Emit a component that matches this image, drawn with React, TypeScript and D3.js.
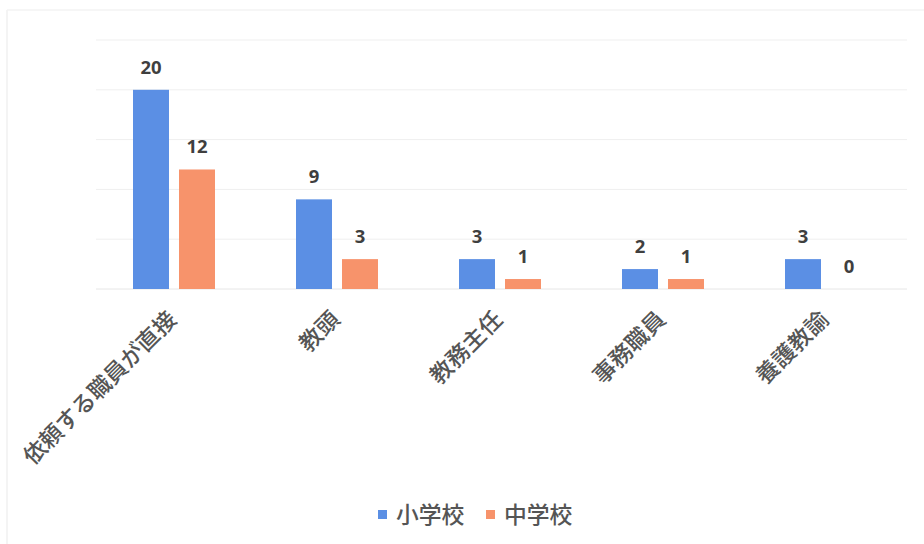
import React from "react";
import * as d3 from "d3";

const categories = ["依頼する職員が直接", "教頭", "教務主任", "事務職員", "養護教諭"];
const seriesNames = ["小学校", "中学校"];
const elementary = [20, 9, 3, 2, 3];
const juniorHigh = [12, 3, 1, 1, 0];
const yTicks = [0, 5, 10, 15, 20, 25];

const colors = ["#5B8FE4", "#F7936B"];
const W = 924;
const H = 544;

export default function App() {
  const x0 = d3.scaleBand<string>().domain(categories).range([92.5, 907.5]).paddingInner(0).paddingOuter(0);
  const y = d3.scaleLinear().domain([0, 25]).range([289, 40]);
  const barW = 36;
  const gap = 10;
  const x1 = d3.scaleOrdinal<string, number>().domain(seriesNames).range([-(barW + gap / 2), gap / 2]);
  const series = [elementary, juniorHigh];
  const numFont = "'Noto Sans', 'DejaVu Sans', sans-serif";
  const jpFont = "'Noto Sans CJK JP', 'Noto Sans', sans-serif";

  return (
    <svg width={W} height={H} style={{ position: "absolute", left: 0, top: 0 }}>
      <rect x={0} y={0} width={W} height={H} fill="#ffffff" />
      {/* chart frame */}
      <line x1={7} x2={7} y1={10} y2={H} stroke="#f0f0f0" strokeWidth={1.5} />
      <line x1={7} x2={W} y1={10} y2={10} stroke="#f3f3f3" strokeWidth={1.5} />
      {/* gridlines */}
      {yTicks.map((t) => (
        <line
          key={t}
          x1={96}
          x2={907}
          y1={y(t)}
          y2={y(t)}
          stroke={t === 0 ? "#e6e6e6" : "#efefef"}
          strokeWidth={1}
        />
      ))}
      {/* bars */}
      {categories.map((c, i) => {
        const cx = (x0(c) as number) + x0.bandwidth() / 2;
        return (
          <g key={c}>
            {seriesNames.map((s, si) => {
              const v = series[si][i];
              const bx = cx + x1(s);
              return (
                <g key={s}>
                  {v > 0 && (
                    <rect x={bx} y={y(v)} width={barW} height={y(0) - y(v)} fill={colors[si]} />
                  )}
                  <text
                    x={bx + barW / 2}
                    y={y(v) - 16}
                    textAnchor="middle"
                    fontFamily={numFont}
                    fontWeight={700}
                    fontSize={18.5}
                    fill="#3f3f3f"
                  >
                    {v}
                  </text>
                </g>
              );
            })}
            {/* category label */}
            <text
              transform={`translate(${cx + 4},${321}) rotate(-45)`}
              textAnchor="end"
              fontFamily={jpFont}
              fontWeight={500}
              fontSize={22.8}
              fill="#555555"
            >
              {c}
            </text>
          </g>
        );
      })}
      {/* legend */}
      {seriesNames.map((s, i) => {
        const lx = [378, 486][i];
        return (
          <g key={s}>
            <rect x={lx} y={510} width={9} height={9} fill={colors[i]} />
            <text x={lx + 18} y={523} fontFamily={jpFont} fontWeight={500} fontSize={22.8} fill="#555555">
              {s}
            </text>
          </g>
        );
      })}
    </svg>
  );
}
